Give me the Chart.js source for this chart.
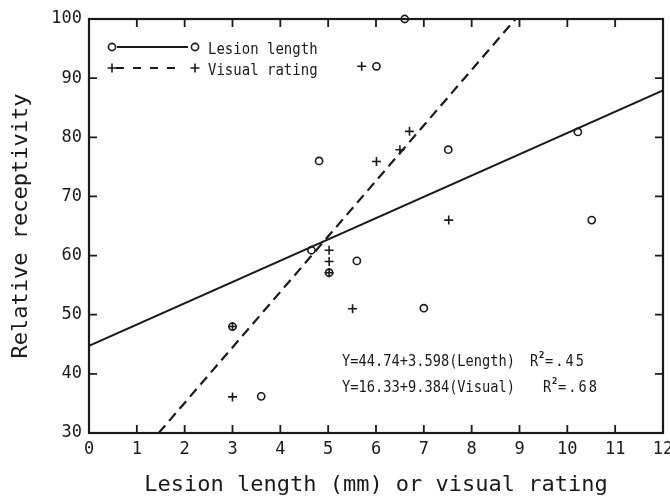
<!DOCTYPE html>
<html><head><meta charset="utf-8">
<script src="https://cdn.jsdelivr.net/npm/chart.js@4.4.1/dist/chart.umd.min.js"></script>
<style>html,body{margin:0;padding:0;background:#fff;}#wrap{width:670px;height:498px;position:relative;}</style>
</head><body><div id="wrap"><canvas id="c"></canvas></div>
<script>
// ---- data ----
const lengthX = [6.6, 6.01, 4.81, 7.51, 10.22, 10.51, 7.0, 5.6, 5.02, 4.65, 3.0, 3.6];
const lengthY = [100, 92.0, 76.0, 77.9, 80.9, 66.0, 51.1, 59.1, 57.1, 60.9, 48.0, 36.2];
const visualX = [5.7, 6.7, 6.5, 6.01, 7.52, 5.51, 5.02, 5.02, 5.02, 3.0, 3.0];
const visualY = [92.0, 81.0, 77.9, 75.9, 66.0, 51.0, 60.9, 59.0, 57.1, 48.0, 36.1];
const lengthFitCoef = [44.74, 3.598];   // intercept, slope
const visualFitCoef = [16.33, 9.384];
const lengthR2 = '.45';
const visualR2 = '.68';
const xTickValues = [0,1,2,3,4,5,6,7,8,9,10,11,12];
const yTickValues = [30,40,50,60,70,80,90,100];
const seriesNames = ['Lesion length', 'Visual rating'];
const xTitle = 'Lesion length (mm) or visual rating';
const yTitle = 'Relative receptivity';

const FONT = "'DejaVu Sans Mono', monospace";
const INK = '#1a1a1a';

const xMin = xTickValues[0], xMax = xTickValues[xTickValues.length-1];
const yMin = yTickValues[0], yMax = yTickValues[yTickValues.length-1];

const pts = (xs, ys) => xs.map((x,i)=>({x, y: ys[i]}));
// regression lines from the printed equations, clipped to the axis box
const lengthFit = [xMin, xMax].map(x => ({x, y: lengthFitCoef[0] + lengthFitCoef[1]*x}));
const visualFit = [yMin, yMax].map(y => ({x: (y - visualFitCoef[0]) / visualFitCoef[1], y}));

function drawCircle(ctx, x, y){ ctx.beginPath(); ctx.arc(x, y, 3.6, 0, Math.PI*2); ctx.stroke(); }
function drawPlus(ctx, x, y){ ctx.beginPath(); ctx.moveTo(x-4.5,y); ctx.lineTo(x+4.5,y); ctx.moveTo(x,y-4.5); ctx.lineTo(x,y+4.5); ctx.stroke(); }

function stretchedText(ctx, txt, x, y, size, sy){
  ctx.save();
  ctx.translate(x, y);
  ctx.scale(1, sy);
  ctx.font = size + 'px ' + FONT;
  ctx.textBaseline = 'middle';
  ctx.textAlign = 'left';
  ctx.fillText(txt, 0, 0);
  ctx.restore();
}

const framePlugin = {
  id: 'frame',
  beforeDatasetsDraw(chart){
    const {ctx, chartArea: a, scales: {x, y}} = chart;
    ctx.save();
    ctx.strokeStyle = INK;
    ctx.lineWidth = 2.2;
    ctx.strokeRect(a.left, a.top, a.right - a.left, a.bottom - a.top);
    ctx.lineWidth = 1.8;
    const L = 8;
    ctx.beginPath();
    xTickValues.slice(1,-1).forEach(v => {
      const px = x.getPixelForValue(v);
      ctx.moveTo(px, a.bottom); ctx.lineTo(px, a.bottom - L);
      ctx.moveTo(px, a.top); ctx.lineTo(px, a.top + L);
    });
    yTickValues.slice(1,-1).forEach(v => {
      const py = y.getPixelForValue(v);
      ctx.moveTo(a.left, py); ctx.lineTo(a.left + L, py);
      ctx.moveTo(a.right, py); ctx.lineTo(a.right - L, py);
    });
    ctx.stroke();
    ctx.restore();
  },
  afterDatasetsDraw(chart){
    const {ctx} = chart;
    ctx.save();
    ctx.strokeStyle = INK; ctx.fillStyle = INK;
    // legend
    ctx.lineWidth = 1.6;
    drawCircle(ctx, 112, 47); drawCircle(ctx, 195, 47);
    ctx.lineWidth = 2;
    ctx.beginPath(); ctx.moveTo(117, 47); ctx.lineTo(188, 47); ctx.stroke();
    ctx.lineWidth = 1.6;
    drawPlus(ctx, 112, 68); drawPlus(ctx, 195, 68);
    ctx.lineWidth = 2;
    ctx.setLineDash([8, 9]);
    ctx.beginPath(); ctx.moveTo(116, 68); ctx.lineTo(176, 68); ctx.stroke();
    ctx.setLineDash([]);
    stretchedText(ctx, seriesNames[0], 208, 49.5, 14, 1.15);
    stretchedText(ctx, seriesNames[1], 208, 70.5, 14, 1.15);
    // regression annotation
    const eq1 = 'Y=' + lengthFitCoef[0].toFixed(2) + '+' + lengthFitCoef[1].toFixed(3) + '(Length)';
    const eq2 = 'Y=' + visualFitCoef[0].toFixed(2) + '+' + visualFitCoef[1].toFixed(3) + '(Visual)';
    stretchedText(ctx, eq1, 342, 362, 13.7, 1.2);
    stretchedText(ctx, eq2, 342, 388, 13.7, 1.2);
    const r2 = (rx, ry, val) => {
      stretchedText(ctx, 'R', rx, ry, 13.7, 1.2);
      ctx.save(); ctx.font = 'bold 9px ' + FONT; ctx.textBaseline = 'middle';
      ctx.fillText('2', rx + 9, ry - 6); ctx.restore();
      ctx.save();
      try { ctx.letterSpacing = '2px'; } catch(e) {}
      stretchedText(ctx, '=' + val, rx + 15, ry, 13.7, 1.2);
      ctx.restore();
    };
    r2(530, 362, lengthR2);
    r2(543, 388, visualR2);
    ctx.restore();
  }
};

new Chart(document.getElementById('c'), {
  type: 'scatter',
  data: {
    datasets: [
      { type: 'line', label: seriesNames[0] + ' fit', data: lengthFit, borderColor: INK, borderWidth: 2,
        pointRadius: 0, fill: false, tension: 0 },
      { type: 'line', label: seriesNames[1] + ' fit', data: visualFit, borderColor: INK, borderWidth: 2.2,
        borderDash: [10, 6], pointRadius: 0, fill: false, tension: 0 },
      { label: seriesNames[0], data: pts(lengthX, lengthY), pointStyle: 'circle', pointRadius: 3.6,
        borderWidth: 1.6, borderColor: INK, backgroundColor: 'rgba(0,0,0,0)', clip: false },
      { label: seriesNames[1], data: pts(visualX, visualY), pointStyle: 'cross', pointRadius: 4.5,
        borderWidth: 1.6, borderColor: INK, backgroundColor: INK, clip: false }
    ]
  },
  options: {
    responsive: true, maintainAspectRatio: false, animation: false,
    layout: { padding: { top: 19, right: 7, left: 0, bottom: 0 } },
    plugins: { legend: { display: false }, tooltip: { enabled: false } },
    scales: {
      x: {
        type: 'linear', min: xMin, max: xMax,
        afterBuildTicks: s => { s.ticks = xTickValues.map(v => ({value: v})); },
        afterFit: s => { s.height = 65; s.paddingLeft = 0; s.paddingRight = 0; },
        grid: { display: false, drawTicks: false },
        border: { display: false },
        ticks: { padding: 6, color: INK, font: { family: FONT, size: 17 }, maxRotation: 0, autoSkip: false },
        title: { display: true, text: xTitle, color: INK, font: { family: FONT, size: 22 }, padding: { top: 0, bottom: 0 } }
      },
      y: {
        type: 'linear', min: yMin, max: yMax,
        afterBuildTicks: s => { s.ticks = yTickValues.map(v => ({value: v})); },
        afterFit: s => { s.width = 89; s.paddingTop = 0; s.paddingBottom = 0; },
        grid: { display: false, drawTicks: false },
        border: { display: false },
        ticks: { padding: 7, color: INK, font: { family: FONT, size: 17 }, autoSkip: false },
        title: { display: true, text: yTitle, color: INK, font: { family: FONT, size: 22 }, padding: { top: 8, bottom: 0 } }
      }
    }
  },
  plugins: [framePlugin]
});
</script></body></html>
